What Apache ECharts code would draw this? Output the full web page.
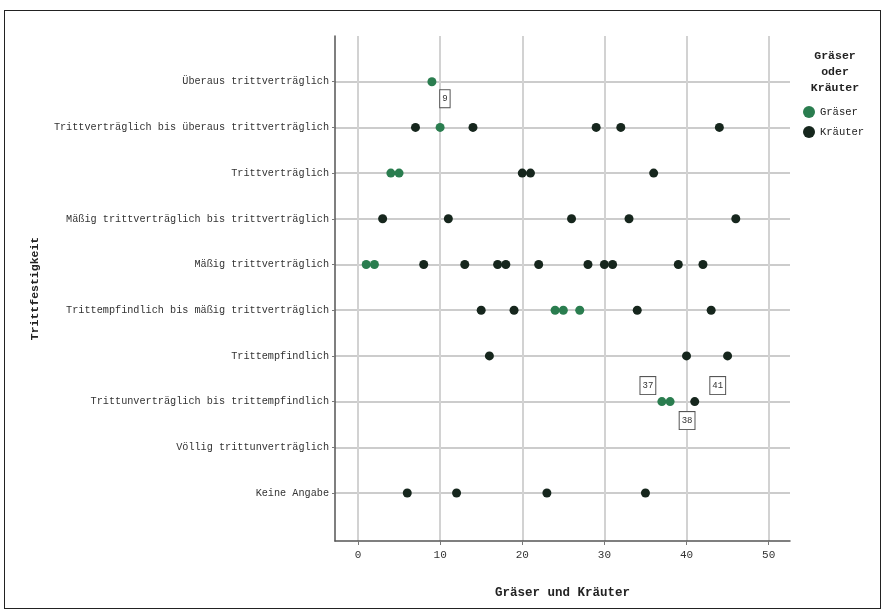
<!DOCTYPE html>
<html><head><meta charset="utf-8">
<script src="https://cdn.jsdelivr.net/npm/echarts@6/dist/echarts.min.js"></script>
<style>html,body{margin:0;padding:0;background:#fff}#c{width:885px;height:616px}#frame{position:absolute;left:4px;top:10px;width:875px;height:597px;border:1px solid #222;pointer-events:none}</style>
</head><body><div id="c"></div><div id="frame"></div>
<script>
const categories = [
  'Überaus trittverträglich',
  'Trittverträglich bis überaus trittverträglich',
  'Trittverträglich',
  'Mäßig trittverträglich bis trittverträglich',
  'Mäßig trittverträglich',
  'Trittempfindlich bis mäßig trittverträglich',
  'Trittempfindlich',
  'Trittunverträglich bis trittempfindlich',
  'Völlig trittunverträglich',
  'Keine Angabe'
];
const xTicks = [0, 10, 20, 30, 40, 50];
const graeserValues = [9, 10, 4, 5, 1, 2, 24, 25, 27, 37, 38];
const graeserRows   = [0, 1, 2, 2, 4, 4, 5, 5, 5, 7, 7];
const kraeuterValues = [7, 14, 29, 32, 44, 20, 21, 36, 3, 11, 26, 33, 46, 8, 13, 17, 18, 22, 28, 30, 31, 39, 42, 15, 19, 34, 43, 16, 40, 45, 41, 6, 12, 23, 35];
const kraeuterRows   = [1, 1, 1, 1, 1, 2, 2, 2, 3, 3, 3, 3, 3, 4, 4, 4, 4, 4, 4, 4, 4, 4, 4, 5, 5, 5, 5, 6, 6, 6, 7, 9, 9, 9, 9];
const labelled = [9, 37, 38, 41];
const labelOffsets = {9: [13, 17], 37: [-14, -16], 38: [17, 19], 41: [23, -16]};

const font = 'Liberation Mono';
function build(vals, rows) {
  return vals.map((v, i) => {
    const item = {value: [v, rows[i]]};
    if (labelled.includes(v)) {
      item.label = {
        show: true, position: 'inside', offset: labelOffsets[v],
        formatter: String(v), color: '#333', fontSize: 9, fontFamily: font,
        backgroundColor: '#fff', borderColor: '#555', borderWidth: 1, padding: [4, 2]
      };
    }
    return item;
  });
}
const chart = echarts.init(document.getElementById('c'));
chart.setOption({
  animation: false,
  textStyle: {fontFamily: font},
  grid: {left: 335, right: 95, top: 36, bottom: 75, containLabel: false},
  title: {
    text: 'Gräser\noder\nKräuter', left: 830, top: 43, textAlign: 'center',
    textStyle: {fontSize: 11.5, fontWeight: 'bold', color: '#222', lineHeight: 16, fontFamily: font}
  },
  legend: {
    orient: 'vertical', left: 798, top: 101, itemWidth: 12, itemHeight: 12, itemGap: 8,
    icon: 'circle', textStyle: {fontSize: 10.5, color: '#222', fontFamily: font},
    data: ['Gräser', 'Kräuter']
  },
  xAxis: {
    type: 'value', min: -2.8, max: 52.6,
    name: 'Gräser und Kräuter', nameLocation: 'middle', nameGap: 45,
    nameTextStyle: {fontSize: 12.5, fontWeight: 'bold', color: '#222', fontFamily: font},
    axisLine: {show: true, onZero: false, lineStyle: {color: '#555', width: 1.5}},
    axisTick: {show: true, length: 4, customValues: xTicks, lineStyle: {color: '#777'}},
    axisLabel: {customValues: xTicks, fontSize: 11, color: '#333', margin: 9, fontFamily: font},
    splitLine: {show: true, lineStyle: {color: '#d2d2d2', width: 2}}
  },
  yAxis: {
    type: 'value', inverse: true, min: -1, max: 10.05,
    name: 'Trittfestigkeit', nameLocation: 'middle', nameGap: 294, nameRotate: 90,
    nameTextStyle: {fontSize: 11.5, fontWeight: 'bold', color: '#222', fontFamily: font},
    axisLine: {show: true, onZero: false, lineStyle: {color: '#555', width: 1.5}},
    axisTick: {show: true, length: 3, customValues: categories.map((c, i) => i), lineStyle: {color: '#777'}},
    axisLabel: {
      customValues: categories.map((c, i) => i), fontSize: 10.2, color: '#333', margin: 6, fontFamily: font,
      formatter: v => categories[Math.round(v)] || ''
    },
    splitLine: {show: true, lineStyle: {color: '#cccccc', width: 2}}
  },
  series: [
    {name: 'Gräser', type: 'scatter', symbolSize: 9, itemStyle: {color: '#2a7d4f', opacity: 1}, data: build(graeserValues, graeserRows), z: 3},
    {name: 'Kräuter', type: 'scatter', symbolSize: 9, itemStyle: {color: '#16261d', opacity: 1}, data: build(kraeuterValues, kraeuterRows), z: 2}
  ]
});
</script></body></html>
